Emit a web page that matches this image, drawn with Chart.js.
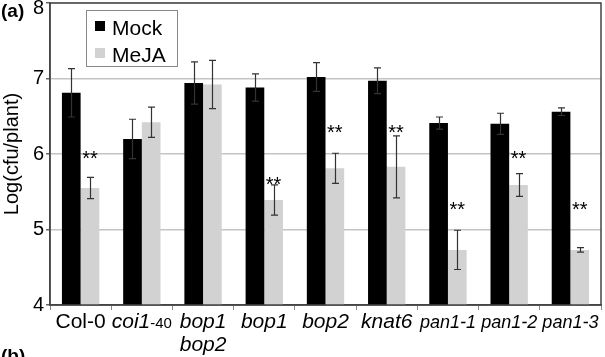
<!DOCTYPE html>
<html lang="en">
<head>
  <meta charset="UTF-8">
  <title>Log(cfu/plant) Mock vs MeJA</title>
  <script src="https://cdn.jsdelivr.net/npm/chart.js"></script>
  <style>
    html, body { margin: 0; padding: 0; background: #fff; }
    #wrap { width: 605px; height: 357px; position: relative; }
  </style>
</head>
<body>
<div id="wrap"><canvas id="cfuChart"></canvas></div>

<script>
  const categories = ['Col-0', 'coi1-40', 'bop1 bop2', 'bop1', 'bop2', 'knat6', 'pan1-1', 'pan1-2', 'pan1-3'];
  const mock = [6.81, 6.20, 6.94, 6.88, 7.02, 6.97, 6.41, 6.40, 6.56];
  const mockErr = [0.32, 0.26, 0.28, 0.18, 0.19, 0.17, 0.08, 0.14, 0.05];
  const meja = [5.55, 6.42, 6.92, 5.39, 5.81, 5.83, 4.73, 5.59, 4.73];
  const mejaErr = [0.14, 0.20, 0.32, 0.20, 0.20, 0.41, 0.26, 0.15, 0.03];
  // level (in log units) where the ** marks sit, null = not significant
  const starLevel = [6.0, null, null, 5.66, 6.34, 6.34, 5.32, 6.0, 5.32];
  const yTicks = [4, 5, 6, 7, 8];

  // category labels split into lines of styled runs
  // n = upright, i = italic, si = small italic, s = small upright
  const labelRuns = [
    [[['Col-0', 'n']]],
    [[['coi1', 'i'], ['-40', 's']]],
    [[['bop1', 'i']], [['bop2', 'i']]],
    [[['bop1', 'i']]],
    [[['bop2', 'i']]],
    [[['knat6', 'i']]],
    [[['pan1-1', 'si']]],
    [[['pan1-2', 'si']]],
    [[['pan1-3', 'si']]]
  ];

  const FONT = '"Liberation Sans", Arial, sans-serif';
  const runFont = {
    n: '21px ' + FONT,
    i: 'italic 21px ' + FONT,
    si: 'italic 18px ' + FONT,
    s: '15px ' + FONT
  };
  const yMax = yTicks[yTicks.length - 1];

  const errorBars = {
    id: 'errorBars',
    afterDatasetsDraw(chart) {
      const ctx = chart.ctx;
      const y = chart.scales.y;
      const errs = [mockErr, mejaErr];
      ctx.save();
      ctx.strokeStyle = '#333';
      ctx.lineWidth = 1.2;
      chart.data.datasets.forEach((ds, di) => {
        chart.getDatasetMeta(di).data.forEach((bar, i) => {
          const v = ds.data[i], e = errs[di][i];
          const top = y.getPixelForValue(v + e);
          const bot = y.getPixelForValue(v - e);
          const x = Math.round(bar.x) + 0.5;
          ctx.beginPath();
          ctx.moveTo(x, top); ctx.lineTo(x, bot);
          ctx.moveTo(x - 3.5, top); ctx.lineTo(x + 3.5, top);
          ctx.moveTo(x - 3.5, bot); ctx.lineTo(x + 3.5, bot);
          ctx.stroke();
        });
      });

      // significance marks above the MeJA bars
      ctx.fillStyle = '#000';
      ctx.font = '20px ' + FONT;
      ctx.textAlign = 'center';
      ctx.textBaseline = 'alphabetic';
      const mejaMeta = chart.getDatasetMeta(1);
      starLevel.forEach((lv, i) => {
        if (lv === null) return;
        ctx.fillText('**', mejaMeta.data[i].x, y.getPixelForValue(lv) + 11);
      });

      // plot frame
      const a = chart.chartArea;
      ctx.strokeStyle = '#444';
      ctx.lineWidth = 1.5;
      ctx.strokeRect(a.left, a.top, a.right - a.left, a.bottom - a.top);
      ctx.restore();
    }
  };

  const decorations = {
    id: 'decorations',
    afterDraw(chart) {
      const ctx = chart.ctx;
      const xs = chart.scales.x;
      const ys = chart.scales.y;
      ctx.save();
      ctx.fillStyle = '#000';
      ctx.textBaseline = 'alphabetic';

      // top tick label, nudged down so it stays inside the canvas
      ctx.font = '20px ' + FONT;
      ctx.textAlign = 'right';
      ctx.textBaseline = 'middle';
      ctx.fillText(String(yMax), ys.right - 6, ys.getPixelForValue(yMax) + 5);
      ctx.textBaseline = 'alphabetic';

      // category labels with mixed styles
      labelRuns.forEach((lines, i) => {
        const cx = xs.getPixelForValue(i);
        lines.forEach((runs, li) => {
          let w = 0;
          runs.forEach(([t, s]) => { ctx.font = runFont[s]; w += ctx.measureText(t).width; });
          let x = cx - w / 2;
          const base = xs.bottom - 29 + li * 23;
          runs.forEach(([t, s]) => {
            ctx.font = runFont[s];
            ctx.textAlign = 'left';
            ctx.fillText(t, x, base);
            x += ctx.measureText(t).width;
          });
        });
      });

      // legend box
      const lx = 86, ly = 10;
      ctx.fillStyle = '#fff';
      ctx.fillRect(lx, ly, 92, 57);
      ctx.strokeStyle = '#888';
      ctx.lineWidth = 1;
      ctx.strokeRect(lx + 0.5, ly + 0.5, 91, 56);
      chart.data.datasets.forEach((ds, di) => {
        const rowY = ly + 11 + di * 27;
        ctx.fillStyle = ds.backgroundColor;
        ctx.fillRect(lx + 9, rowY, 10, 10);
        ctx.fillStyle = '#000';
        ctx.font = '21px ' + FONT;
        ctx.textAlign = 'left';
        ctx.fillText(ds.label, lx + 26, rowY + 14);
      });

      // panel letters
      ctx.font = 'bold 19px ' + FONT;
      ctx.fillText('(a)', 1, 17);
      ctx.fillText('(b)', 1, 362);
      ctx.restore();
    }
  };

  const ctx = document.getElementById('cfuChart').getContext('2d');
  new Chart(ctx, {
    type: 'bar',
    data: {
      labels: categories,
      datasets: [
        { label: 'Mock', data: mock, backgroundColor: '#000000' },
        { label: 'MeJA', data: meja, backgroundColor: '#d2d2d2' }
      ]
    },
    options: {
      responsive: true,
      maintainAspectRatio: false,
      animation: false,
      devicePixelRatio: 1,
      layout: { padding: { top: 3, right: 4, left: 0, bottom: 0 } },
      datasets: {
        bar: { categoryPercentage: 0.61, barPercentage: 1.0, borderWidth: 0 }
      },
      plugins: {
        legend: { display: false },
        tooltip: { enabled: false }
      },
      scales: {
        x: {
          grid: {
            offset: true,
            drawOnChartArea: false,
            tickLength: 5,
            color: '#888'
          },
          border: { color: '#444', width: 1.5 },
          ticks: { callback: () => '', padding: 0 },
          afterFit(scale) {
            scale.height = 52;
            scale.paddingLeft = 0;
            scale.paddingRight = 0;
          }
        },
        y: {
          min: 4,
          max: yMax,
          afterBuildTicks(scale) {
            scale.ticks = yTicks.map(v => ({ value: v }));
          },
          grid: {
            color: '#c4c4c4',
            lineWidth: 1.5,
            tickLength: 4,
            tickColor: '#666'
          },
          border: { color: '#444', width: 1.5 },
          ticks: {
            color: '#000',
            padding: 2,
            font: { family: FONT, size: 20 },
            // the top label is drawn by the decorations plugin
            callback: v => (v === yMax ? '' : String(v))
          },
          title: {
            display: true,
            text: 'Log(cfu/plant)',
            color: '#000',
            padding: { top: 0, bottom: 0 },
            font: { family: FONT, size: 20 }
          },
          afterFit(scale) {
            scale.width = 50;
            scale.paddingTop = 0;
            scale.paddingBottom = 0;
          }
        }
      }
    },
    plugins: [errorBars, decorations]
  });
</script>
</body>
</html>
